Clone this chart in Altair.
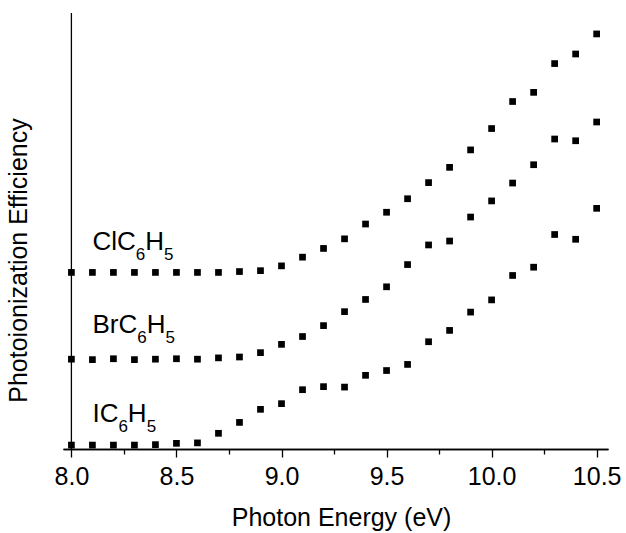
import altair as alt
import pandas as pd

energy = [8.0, 8.1, 8.2, 8.3, 8.4, 8.5, 8.6, 8.7, 8.8, 8.9, 9.0, 9.1, 9.2,
          9.3, 9.4, 9.5, 9.6, 9.7, 9.8, 9.9, 10.0, 10.1, 10.2, 10.3, 10.4, 10.5]
cl_c6h5 = [40.5, 40.5, 40.5, 40.5, 40.5, 40.5, 40.5, 40.5, 40.7, 40.9, 42.0, 44.0, 46.0,
           48.2, 51.6, 54.3, 57.4, 61.1, 64.6, 68.6, 73.5, 79.7, 81.8, 88.4, 90.6, 95.2]
br_c6h5 = [20.6, 20.5, 20.7, 20.5, 20.6, 20.7, 20.6, 20.9, 21.1, 22.1, 24.0, 25.8, 28.3,
           31.5, 34.3, 37.2, 42.3, 46.8, 47.7, 53.2, 56.9, 61.0, 65.2, 71.1, 70.7, 75.0]
i_c6h5 = [0.9, 0.9, 0.9, 0.9, 1.0, 1.3, 1.4, 3.6, 6.1, 9.1, 10.4, 13.6, 14.3,
          14.2, 16.9, 18.0, 19.4, 24.6, 27.2, 31.4, 34.2, 39.8, 41.7, 49.2, 48.1, 55.2]

major_ticks = [8.0, 8.5, 9.0, 9.5, 10.0, 10.5]
minor_ticks = [8.25, 8.75, 9.25, 9.75, 10.25]

label_prefix = ["ClC", "BrC", "IC"]
label_x = 8.1
label_y = [45.6, 26.7, 6.3]

X_DOMAIN = [7.96, 10.554]
Y_DOMAIN = [0, 100]
W, H = 545, 436
FONT = "Liberation Sans"
FS = 25
LFS = 26
SUB = 17

rows = []
for name, vals in [("ClC6H5", cl_c6h5), ("BrC6H5", br_c6h5), ("IC6H5", i_c6h5)]:
    for e, v in zip(energy, vals):
        rows.append({"energy": e, "signal": v, "compound": name})
df = pd.DataFrame(rows)

xscale = alt.Scale(domain=X_DOMAIN, nice=False, zero=False)
yscale = alt.Scale(domain=Y_DOMAIN, nice=False, zero=False)

points = alt.Chart(df).mark_square(size=45, color="black", opacity=1).encode(
    x=alt.X("energy:Q", scale=xscale,
            axis=alt.Axis(values=major_ticks, format=".1f", title="Photon Energy (eV)",
                          tickSize=8, tickWidth=1.3, tickColor="black",
                          domain=True, domainColor="black", domainWidth=1.4,
                          labelFontSize=FS, labelFont=FONT, labelColor="black",
                          labelPadding=7, grid=False,
                          titleFontSize=FS, titleFont=FONT, titleFontWeight="normal",
                          titleColor="black", titleX=278, titleY=76,
                          titleAlign="center", titleBaseline="alphabetic",
                          labelFlush=False, labelOverlap=False)),
    y=alt.Y("signal:Q", scale=yscale,
            axis=alt.Axis(title="Photoionization Efficiency", labels=False, ticks=False,
                          domain=False, grid=False,
                          titleFontSize=FS, titleFont=FONT, titleFontWeight="normal",
                          titleColor="black", titleX=-45, titleY=247,
                          titleAngle=270, titleAlign="center", titleBaseline="middle")),
)

minor = alt.Chart(pd.DataFrame({"energy": minor_ticks})).mark_point(opacity=0).encode(
    x=alt.X("energy:Q", scale=xscale,
            axis=alt.Axis(values=minor_ticks, labels=False, grid=False,
                          domain=True, domainColor="black", domainWidth=1.4,
                          tickSize=5, tickWidth=1.3, tickColor="black", title=None,
                          orient="bottom")),
)

yaxis_line = alt.Chart(pd.DataFrame({"energy": [X_DOMAIN[0] + 0.04]})).mark_rule(
    color="black", strokeWidth=1.3).encode(
    x=alt.X("energy:Q", scale=xscale, axis=None),
    y=alt.value(0), y2=alt.value(H),
)

widths = {"C": 0.722, "l": 0.222, "B": 0.667, "r": 0.333, "I": 0.278, "H": 0.722, "6": 0.556}

def tw(s, size):
    return sum(widths[c] for c in s) * size

label_layers = []
for pre, ly in zip(label_prefix, label_y):
    d = pd.DataFrame({"x": [label_x], "y": [ly]})
    base = alt.Chart(d).encode(
        x=alt.X("x:Q", scale=xscale, axis=None),
        y=alt.Y("y:Q", scale=yscale, axis=None),
    )
    w1 = tw(pre, LFS)
    w2 = w1 + tw("6", SUB)
    w3 = w2 + tw("H", LFS)
    common = dict(font=FONT, color="black", align="left", baseline="alphabetic")
    label_layers.append(base.mark_text(text=pre, fontSize=LFS, dx=0, **common))
    label_layers.append(base.mark_text(text="6", fontSize=SUB, dx=w1, dy=10, **common))
    label_layers.append(base.mark_text(text="H", fontSize=LFS, dx=w2, **common))
    label_layers.append(base.mark_text(text="5", fontSize=SUB, dx=w3, dy=10, **common))

chart = alt.layer(points, minor, yaxis_line, *label_layers).resolve_axis(
    x="independent", y="independent"
).properties(
    width=W, height=H,
    background="white",
    autosize=alt.AutoSizeParams(type="none"),
    padding={"left": 63, "top": 13, "right": 18, "bottom": 84},
).configure_view(stroke=None)

chart.save("out.html", embed_options={"renderer": "svg", "actions": False})
